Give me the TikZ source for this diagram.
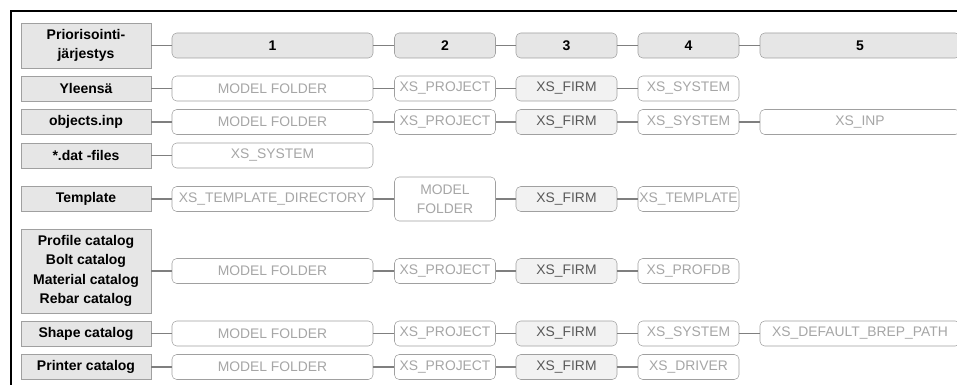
\documentclass[tikz,border=0pt]{standalone}
\usepackage{fontspec}
\setmainfont{Liberation Sans}
\usetikzlibrary{positioning}
\definecolor{lblfill}{HTML}{E6E6E6}
\definecolor{boxline}{HTML}{A0A0A0}
\definecolor{firmfill}{HTML}{F2F2F2}
\definecolor{firmtext}{HTML}{595959}
\definecolor{pathtext}{HTML}{A6A6A6}
\definecolor{linkgray}{HTML}{7F7F7F}

\begin{document}
\begin{tikzpicture}[
  x=0.75pt, y=-0.75pt,
  lbl/.style={rectangle, draw=boxline, fill=lblfill, minimum width=97.5pt, minimum height=18.75pt, inner sep=0pt, font=\fontsize{10.5pt}{14.5pt}\selectfont\bfseries, align=center},
  hd/.style={rectangle, draw=boxline, fill=lblfill, rounded corners=3.5pt, minimum height=18.75pt, inner sep=0pt, font=\fontsize{10.5pt}{12pt}\selectfont\bfseries},
  pathbox/.style={rectangle, draw=boxline, fill=white, rounded corners=3.5pt, minimum height=18.75pt, inner sep=0pt, text=pathtext, font=\fontsize{10.4pt}{14.5pt}\selectfont, align=center},
  firmbox/.style={pathbox, fill=firmfill, text=firmtext},
  wA/.style={minimum width=150.75pt},
  wB/.style={minimum width=75.75pt},
  wC/.style={minimum width=150pt},
  link/.style={linkgray, thick},
]
  \useasboundingbox (0,0) rectangle (957,385);
  \clip (0,0) rectangle (957,385);

  % Frame
  \draw[line width=1.5pt] (11,400) -- (11,11) -- (970,11);

  % Row labels
  \node[lbl, minimum height=33.75pt] (hL) at (86,45.5) {Priorisointi-\\järjestys};
  \node[lbl] (yL) at (86,88.5) {Yleensä};
  \node[lbl] (oL) at (86,122) {objects.inp};
  \node[lbl] (dL) at (86,155.5) {*.dat -files};
  \node[lbl] (tL) at (86,199) {Template};
  \node[lbl, minimum height=63pt] (pL) at (86,271) {Profile catalog\\Bolt catalog\\Material catalog\\Rebar catalog};
  \node[lbl] (sL) at (86,333.5) {Shape catalog};
  \node[lbl] (rL) at (86,367) {Printer catalog};

  % Priority order
  \node[hd, wA] (h1) at (272.5,45.5) {1};
  \node[hd, wB] (h2) at (445,45.5) {2};
  \node[hd, wB] (h3) at (566.5,45.5) {3};
  \node[hd, wB] (h4) at (688.5,45.5) {4};
  \node[hd, wC] (h5) at (860,45.5) {5};
  \draw[link] (hL) -- (h1) -- (h2) -- (h3) -- (h4) -- (h5);

  % Yleensä
  \node[pathbox, wA] (y1) at (272.5,88.5) {MODEL FOLDER};
  \node[pathbox, wB] (y2) at (445,88.5) {XS\_PROJECT};
  \node[firmbox, wB] (y3) at (566.5,88.5) {XS\_FIRM};
  \node[pathbox, wB] (y4) at (688.5,88.5) {XS\_SYSTEM};
  \draw[link] (yL) -- (y1) -- (y2) -- (y3) -- (y4);

  % objects.inp
  \node[pathbox, wA] (o1) at (272.5,122) {MODEL FOLDER};
  \node[pathbox, wB] (o2) at (445,122) {XS\_PROJECT};
  \node[firmbox, wB] (o3) at (566.5,122) {XS\_FIRM};
  \node[pathbox, wB] (o4) at (688.5,122) {XS\_SYSTEM};
  \node[pathbox, wC] (o5) at (860,122) {XS\_INP};
  \draw[link] (oL) -- (o1) -- (o2) -- (o3) -- (o4) -- (o5);

  % *.dat -files
  \node[pathbox, wA] (d1) at (272.5,155.5) {XS\_SYSTEM};
  \draw[link] (dL) -- (d1);

  % Template
  \node[pathbox, wA] (t1) at (272.5,199) {XS\_TEMPLATE\_DIRECTORY};
  \node[pathbox, wB, minimum height=33pt] (t2) at (445,199) {MODEL\\FOLDER};
  \node[firmbox, wB] (t3) at (566.5,199) {XS\_FIRM};
  \node[pathbox, wB] (t4) at (688.5,199) {XS\_TEMPLATE};
  \draw[link] (tL) -- (t1) -- (t2) -- (t3) -- (t4);

  % Catalogs
  \node[pathbox, wA] (p1) at (272.5,271) {MODEL FOLDER};
  \node[pathbox, wB] (p2) at (445,271) {XS\_PROJECT};
  \node[firmbox, wB] (p3) at (566.5,271) {XS\_FIRM};
  \node[pathbox, wB] (p4) at (688.5,271) {XS\_PROFDB};
  \draw[link] (pL) -- (p1) -- (p2) -- (p3) -- (p4);

  % Shape catalog
  \node[pathbox, wA] (s1) at (272.5,333.5) {MODEL FOLDER};
  \node[pathbox, wB] (s2) at (445,333.5) {XS\_PROJECT};
  \node[firmbox, wB] (s3) at (566.5,333.5) {XS\_FIRM};
  \node[pathbox, wB] (s4) at (688.5,333.5) {XS\_SYSTEM};
  \node[pathbox, wC] (s5) at (860,333.5) {XS\_DEFAULT\_BREP\_PATH};
  \draw[link] (sL) -- (s1) -- (s2) -- (s3) -- (s4) -- (s5);

  % Printer catalog
  \node[pathbox, wA] (r1) at (272.5,367) {MODEL FOLDER};
  \node[pathbox, wB] (r2) at (445,367) {XS\_PROJECT};
  \node[firmbox, wB] (r3) at (566.5,367) {XS\_FIRM};
  \node[pathbox, wB] (r4) at (688.5,367) {XS\_DRIVER};
  \draw[link] (rL) -- (r1) -- (r2) -- (r3) -- (r4);
\end{tikzpicture}
\end{document}
